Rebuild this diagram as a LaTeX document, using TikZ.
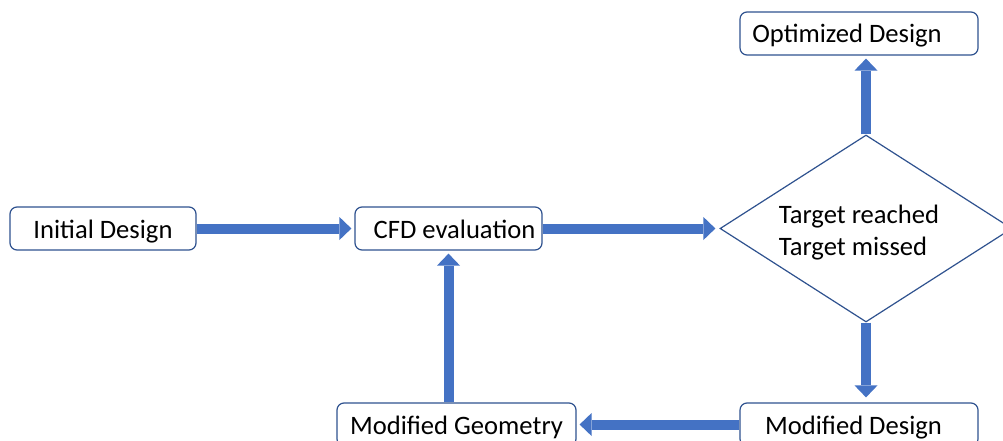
\documentclass[tikz,border=0pt]{standalone}
\usepackage{fontspec}
\setmainfont{Carlito}
\usetikzlibrary{arrows.meta,shapes.geometric}
\definecolor{arrowblue}{HTML}{4472C4}
\definecolor{edgeblue}{HTML}{2F528F}
\begin{document}
\begin{tikzpicture}[x=1pt,y=-1pt,
  every node/.style={font=\fontsize{26.6pt}{32pt}\selectfont},
  box/.style={draw=edgeblue,line width=1.2pt,rounded corners=7pt,minimum height=43pt,inner sep=2pt,fill=white,text height=22pt,text depth=3pt},
  decision/.style={diamond,draw=edgeblue,line width=1.2pt,aspect=1.56,minimum width=292pt,minimum height=187pt,inner sep=0pt,align=left,fill=white},
  flow/.style={draw=arrowblue,line width=10pt,-{Triangle[length=12pt,width=23pt,line width=0pt]}}]
\fill[white] (0,0) rectangle (1003,441);
\useasboundingbox (0,0) rectangle (1003,441);
\node[box,minimum width=186pt] (init) at (103,228.5) {Initial Design};
\node[box,minimum width=187pt] (cfd) at (448.5,228.5) {\hspace*{12pt}CFD evaluation};
\node[box,minimum width=238pt] (opt) at (859,33.5) {Optimized Design\hspace*{24pt}};
\node[box,minimum width=239pt] (geo) at (456.5,424.5) {Modified Geometry};
\node[box,minimum width=238pt] (mdes) at (859,424.5) {Modified Design\hspace*{11pt}};
\node[decision] (dec) at (866,228.5) {\rule{0pt}{27pt}Target reached\hspace*{14pt}\\Target missed};
\draw[flow,shorten >=3pt] (init.east) -- (cfd.west);
\draw[flow,shorten >=4pt] (cfd.east) -- (dec.west);
\draw[flow,shorten >=3pt] (dec.north) -- (dec.north |- opt.south);
\draw[flow,shorten >=5pt] (dec.south) -- (dec.south |- mdes.north);
\draw[flow,shorten >=3pt] (mdes.west) -- (geo.east);
\draw[flow,shorten >=3pt] (geo.north -| cfd.south) -- (cfd.south);
\end{tikzpicture}
\end{document}
